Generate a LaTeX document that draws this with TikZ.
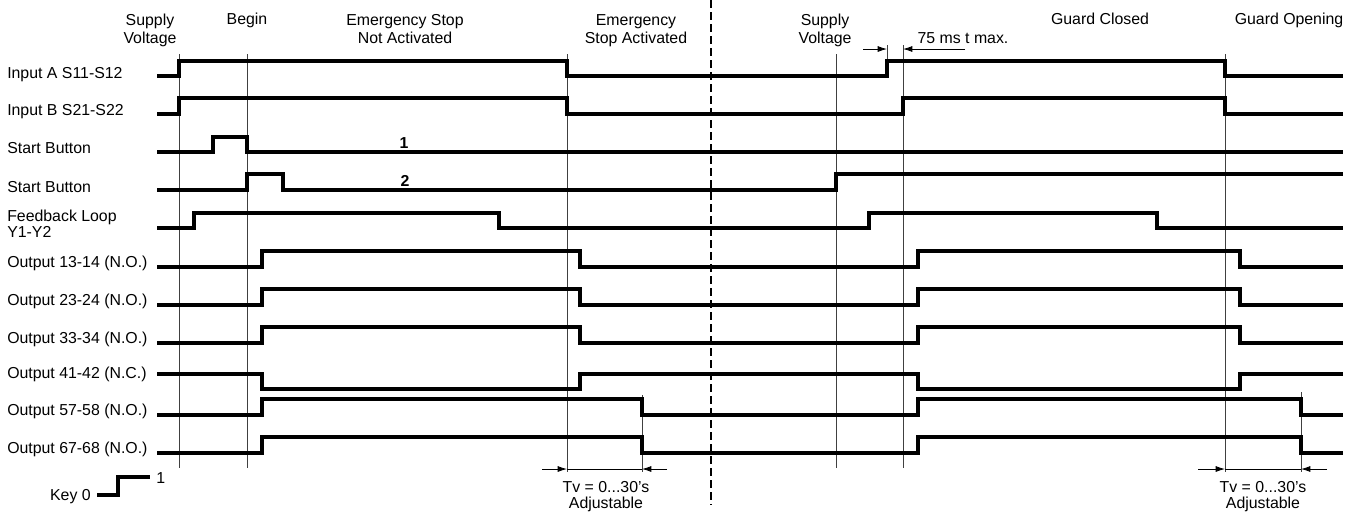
\documentclass[tikz,border=0pt]{standalone}
\usepackage{fontspec}
\setmainfont{Liberation Sans}
\usepackage{tikz}
\usetikzlibrary{arrows.meta, positioning}

\tikzset{
  sig/.style={line width=2.3pt},
  guide/.style={line width=0.7pt, black!75},
  divider/.style={line width=1.3pt, dash pattern=on 6pt off 3pt},
  dimline/.style={line width=0.6pt},
  dimarrow/.style={line width=0.6pt, -{Latex[length=7pt,width=4.5pt]}},
  lbl/.style={anchor=base west, inner sep=0pt},
  head/.style={anchor=base, inner sep=0pt, align=center}
}

\begin{document}
\begin{tikzpicture}[x=0.75pt, y=-0.75pt, font=\fontsize{11.9}{13.5}\selectfont]
  \useasboundingbox (0,0) rectangle (1360,512);

  % event headings (base = last line)
  \node[head] (supply1) at (150,43) {Supply\\Voltage};
  \node[head] (begin) at (247,24) {Begin};
  \node[head] (notact) at (405,43) {Emergency Stop\\Not Activated};
  \node[head] (act) at (636,43) {Emergency\\Stop Activated};
  \node[head] (supply2) at (825,43) {Supply\\Voltage};
  \node[head] (closed) at (1100,24) {Guard Closed};
  \node[head] (opening) at (1289,24) {Guard Opening};

  % signal names
  \node[lbl] (inA) at (7,78) {Input A S11-S12};
  \node[lbl] (inB) at (7,115) {Input B S21-S22};
  \node[lbl] (start1) at (7,153) {Start Button};
  \node[lbl] (start2) at (7,192) {Start Button};
  \node[lbl, align=left, font=\fontsize{11.9}{12}\selectfont] (fb) at (7,237) {Feedback Loop\\Y1-Y2};
  \node[lbl] (out1) at (7,267) {Output 13-14 (N.O.)};
  \node[lbl] (out2) at (7,305) {Output 23-24 (N.O.)};
  \node[lbl] (out3) at (7,343) {Output 33-34 (N.O.)};
  \node[lbl] (out4) at (7,378) {Output 41-42 (N.C.)};
  \node[lbl] (out5) at (7,415) {Output 57-58 (N.O.)};
  \node[lbl] (out6) at (7,453) {Output 67-68 (N.O.)};

  % guide lines
  \draw[guide] (179,54) -- (179,468);
  \draw[guide] (247,54) -- (247,468);
  \draw[guide] (567,54) -- (567,472);
  \draw[guide] (642,395) -- (642,472);
  \draw[guide] (836,54) -- (836,468);
  \draw[guide] (887,45) -- (887,62);
  \draw[guide] (903,45) -- (903,468);
  \draw[guide] (1225,54) -- (1225,472);
  \draw[guide] (1301,392) -- (1301,472);
  \draw[divider] (711,0) -- (711,505);

  % signals
  \draw[sig] (157,76) -| (179,61) -| (567,76) -| (887,61) -| (1225,76) -- (1343,76);
  \draw[sig] (157,114) -| (179,98) -| (567,114) -| (903,98) -| (1225,114) -- (1343,114);
  \draw[sig] (157,152) -| (213,137) -| (247,152) -- (1343,152);
  \draw[sig] (157,190) -| (247,174) -| (283,190) -| (836,174) -- (1343,174);
  \draw[sig] (157,228) -| (194,213) -| (499,228) -| (869,213) -| (1157,228) -- (1343,228);
  \draw[sig] (157,267) -| (262,251) -| (580,267) -| (918,251) -| (1240,267) -- (1343,267);
  \draw[sig] (157,305) -| (262,289) -| (580,305) -| (918,289) -| (1240,305) -- (1343,305);
  \draw[sig] (157,343) -| (262,327) -| (580,343) -| (918,327) -| (1240,343) -- (1343,343);
  \draw[sig] (157,374) -| (262,389) -| (580,374) -| (918,389) -| (1240,374) -- (1343,374);
  \draw[sig] (157,415) -| (262,399) -| (642,415) -| (918,399) -| (1301,415) -- (1343,415);
  \draw[sig] (157,453) -| (262,437) -| (642,453) -| (918,437) -| (1301,453) -- (1343,453);

  \node[anchor=base, inner sep=0pt, font=\fontsize{11.9}{13.5}\selectfont\bfseries] (one) at (404,148) {1};
  \node[anchor=base, inner sep=0pt, font=\fontsize{11.9}{13.5}\selectfont\bfseries] (two) at (405,186) {2};

  % 75 ms
  \coordinate (msA) at (887,49);
  \coordinate (msB) at (903,49);
  \draw[dimarrow] (863,49) -- (msA);
  \draw[dimarrow] (965,49) -- (msB);
  \node[anchor=base, inner sep=0pt] (tmax) at (963,43) {75 ms t max.};

  % delay times
  \coordinate (tvA) at (567,469);
  \coordinate (tvB) at (642,469);
  \draw[dimarrow] (542,469) -- (tvA);
  \draw[dimarrow] (667,469) -- (tvB);
  \draw[dimline] (tvA) -- (tvB);
  \node[head, font=\fontsize{11.9}{12}\selectfont] (tv1) at (606,508) {Tv = 0...30's\\Adjustable};

  \coordinate (tvC) at (1225,469);
  \coordinate (tvD) at (1301,469);
  \draw[dimarrow] (1198,469) -- (tvC);
  \draw[dimarrow] (1327,469) -- (tvD);
  \draw[dimline] (tvC) -- (tvD);
  \node[head, font=\fontsize{11.9}{12}\selectfont] (tv2) at (1263,508) {Tv = 0...30's\\Adjustable};

  % key
  \node[anchor=base east, inner sep=0pt] (key) at (91,500) {Key 0};
  \draw[sig] (97,495) -| (118,477) -- (150,477);
  \node[anchor=base west, inner sep=0pt] (keyhi) at (156,483) {1};
\end{tikzpicture}
\end{document}
